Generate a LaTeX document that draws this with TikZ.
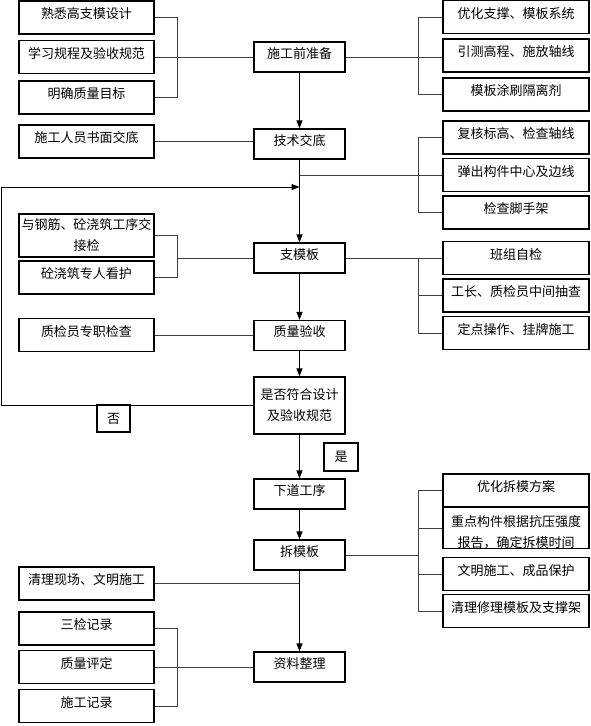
\documentclass[tikz,border=0pt]{standalone}
\usepackage{fontspec}
\setmainfont{Noto Sans CJK SC}
\usetikzlibrary{arrows.meta}

\tikzset{
  box/.style={draw, line width=1.2pt, inner sep=0pt, font=\fontsize{13}{21}\selectfont,
    text height=8pt, text depth=6pt},
  lbox/.style={box, minimum width=135pt, minimum height=33pt},
  mbox/.style={box, minimum width=91pt, minimum height=30pt},
  rbox/.style={box, minimum width=146pt, minimum height=33pt},
  two/.style={align=center, text height=, text depth=},
  tag/.style={draw, line width=1.2pt, inner sep=0pt, font=\fontsize{13}{21}\selectfont},
  line/.style={draw=black!75, line width=0.8pt},
  arr/.style={draw=black, line width=1pt, -{Triangle[length=8pt,width=6pt]}}
}

\begin{document}
\begin{tikzpicture}[x=1pt, y=-1pt]
    \useasboundingbox (0,0) rectangle (591,726);
    % bracket columns
    \coordinate (lb) at (177,0);
    \coordinate (rb) at (418,0);
    \coordinate (lp) at (1,0);
    % Left column
    \node[lbox] (L1) at (86.5,17.5) {熟悉高支模设计};
    \node[lbox] (L2) at (86.5,57) {学习规程及验收规范};
    \node[lbox] (L3) at (86.5,97.5) {明确质量目标};
    \node[lbox] (L4) at (86.5,141.5) {施工人员书面交底};
    \node[lbox, two, minimum height=43pt] (L5) at (86.5,235.5) {与钢筋、砼浇筑工序交\\接检};
    \node[lbox] (L6) at (86.5,277.5) {砼浇筑专人看护};
    \node[lbox] (L7) at (86.5,335) {质检员专职检查};
    \node[lbox] (L8) at (86.5,583.5) {清理现场、文明施工};
    \node[lbox] (L9) at (86.5,628.5) {三检记录};
    \node[lbox] (L10) at (86.5,667) {质量评定};
    \node[lbox] (L11) at (86.5,706) {施工记录};
    % Main flow
    \node[mbox] (M1) at (299.5,57) {施工前准备};
    \node[mbox] (M2) at (299.5,144) {技术交底};
    \node[mbox] (M3) at (299.5,258) {支模板};
    \node[mbox] (M4) at (299.5,335.5) {质量验收};
    \node[mbox, two, minimum height=57pt] (M5) at (299.5,405.5) {是否符合设计\\及验收规范};
    \node[mbox] (M6) at (299.5,494) {下道工序};
    \node[mbox] (M7) at (299.5,555) {拆模板};
    \node[mbox] (M8) at (299.5,667) {资料整理};
    % Right column
    \node[rbox] (R1) at (516,17) {优化支撑、模板系统};
    \node[rbox] (R2) at (516,55.5) {引测高程、施放轴线};
    \node[rbox] (R3) at (516,94.5) {模板涂刷隔离剂};
    \node[rbox] (R4) at (516,137.5) {复核标高、检查轴线};
    \node[rbox] (R5) at (516,175) {弹出构件中心及边线};
    \node[rbox] (R6) at (516,212.5) {检查脚手架};
    \node[rbox] (R7) at (516,258) {班组自检};
    \node[rbox] (R8) at (516,295.5) {工长、质检员中间抽查};
    \node[rbox] (R9) at (516,333) {定点操作、挂牌施工};
    \node[rbox] (R10) at (516,490.5) {优化拆模方案};
    \node[rbox, two, minimum height=34pt] (R11) at (516,528) {\rule{0pt}{19pt}重点构件根据抗压强度\\报告，确定拆模时间};
    \node[rbox] (R12) at (516,574) {文明施工、成品保护};
    \node[rbox] (R13) at (516,611) {清理修理模板及支撑架};
    % Yes / no
    \node[tag, minimum width=33pt, minimum height=27pt] (no) at (113.5,418.5) {否};
    \node[tag, minimum width=34pt, minimum height=28pt] (yes) at (341,457) {是};

    % Brackets left
    \draw[line] (L1.east) -- (L1.east -| lb) |- (L3.east);
    \draw[line] (L2.east) -- (M1.west);
    \draw[line] (L4.east) -- (L4.east -| M2.west);
    \draw[line] (L5.east) -- (L5.east -| lb) |- (L6.east);
    \draw[line] (M3.west) -- (M3.west -| lb);
    \draw[line] (L7.east) -- (L7.east -| M4.west);
    \draw[line] (L8.east) -- (L8.east -| M7.south);
    \draw[line] (L9.east) -- (L9.east -| lb) |- (L11.east);
    \draw[line] (L10.east) -- (M8.west);
    % Brackets right
    \draw[line] (R1.west) -- (R1.west -| rb) |- (R3.west);
    \draw[line] (M1.east) -- (M1.east -| R2.west);
    \draw[line] (R4.west) -- (R4.west -| rb) |- (R6.west);
    \coordinate (j1) at (299.5,175);
    \draw[line] (j1) -- (R5.west);
    \draw[line] (M3.east) -- (R7.west);
    \draw[line] (R7.west -| rb) |- (R9.west);
    \draw[line] (R8.west -| rb) -- (R8.west);
    \draw[line] (M7.east) -- (M7.east -| rb);
    \draw[line] (R10.west) -- (R10.west -| rb) |- (R13.west);
    \draw[line] (R11.west -| rb) -- (R11.west);
    \draw[line] (R12.west -| rb) -- (R12.west);
    % Main arrows
    \draw[arr] (M1) -- (M2);
    \draw[arr] (M2) -- (M3);
    \draw[arr] (M3) -- (M4);
    \draw[arr] (M4) -- (M5);
    \draw[arr] (M5) -- (M6);
    \draw[arr] (M6) -- (M7);
    \draw[arr] (M7) -- (M8);
    % Feedback
    \coordinate (j2) at (299.5,187);
    \draw[arr] (M5.west) -- (M5.west -| lp) |- (j2);
\end{tikzpicture}
\end{document}
